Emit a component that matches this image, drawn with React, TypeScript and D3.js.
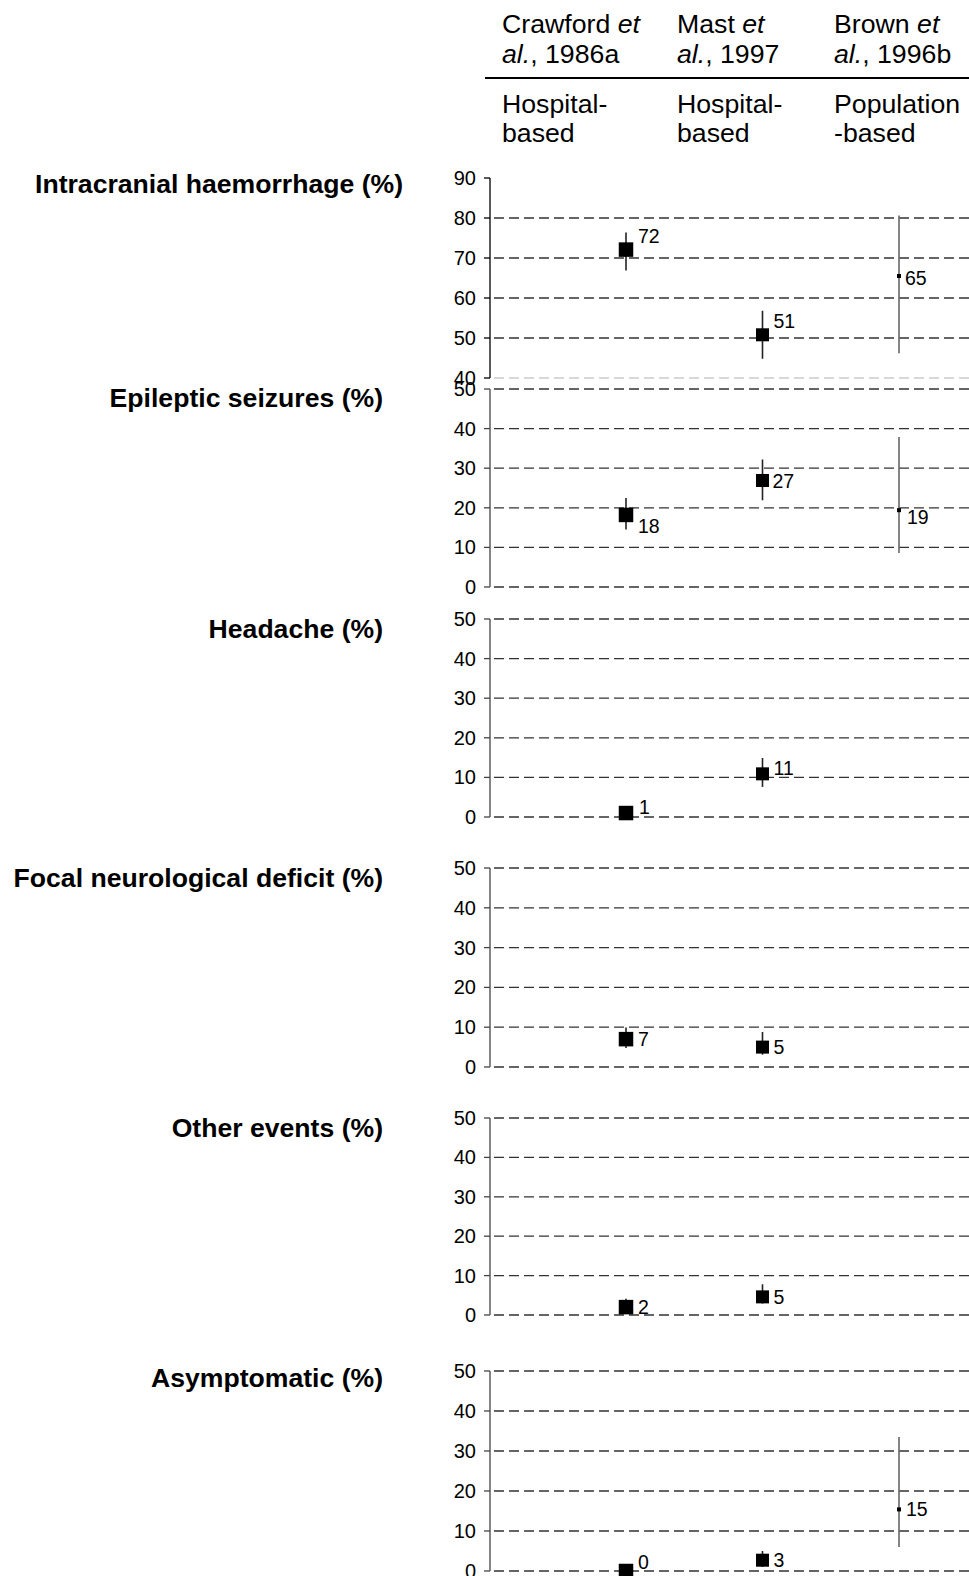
import * as d3 from 'd3'

// studies across the top
const studyAuthors = ['Crawford', 'Mast', 'Brown']
const studyYears = ['1986a', '1997', '1996b']
const designLine1 = ['Hospital-', 'Hospital-', 'Population']
const designLine2 = ['based', 'based', '-based']

// one row per outcome
const outcomes = [
  'Intracranial haemorrhage (%)',
  'Epileptic seizures (%)',
  'Headache (%)',
  'Focal neurological deficit (%)',
  'Other events (%)',
  'Asymptomatic (%)',
]
const axisMin = [40, 0, 0, 0, 0, 0]
const axisMax = [90, 50, 50, 50, 50, 50]

// point estimates (%), per outcome: [Crawford, Mast, Brown]
const estimates: (number | null)[][] = [
  [72.1, 50.8, 65.5],
  [18.2, 26.9, 19.4],
  [1.0, 10.9, null],
  [7.0, 5.0, null],
  [2.0, 4.6, null],
  [0, 2.7, 15.4],
]
// 95% CI lower / upper
const lower: (number | null)[][] = [
  [66.9, 44.8, 46.2],
  [14.5, 21.9, 8.6],
  [null, 7.6, null],
  [4.8, 3.1, null],
  [0.5, 2.9, null],
  [null, 1.0, 6.0],
]
const upper: (number | null)[][] = [
  [76.4, 56.8, 80.6],
  [22.5, 32.2, 37.9],
  [null, 14.9, null],
  [9.9, 8.8, null],
  [4.1, 7.8, null],
  [null, 5.0, 33.5],
]
// printed labels
const printed: (string | null)[][] = [
  ['72', '51', '65'],
  ['18', '27', '19'],
  ['1', '11', null],
  ['7', '5', null],
  ['2', '5', null],
  ['0', '3', '15'],
]

// ---- layout ----
const W = 969
const H = 1576
const axisX = 490
const panelTop = [178, 389, 619, 868, 1118, 1371]
const panelBottom = [378, 587, 817, 1067, 1315, 1571]
const rowLabelDy = [6, 9, 10, 10, 10, 7]
const headerX = [502, 677, 834]
// label offsets (dx, dy) from the marker
const labelOffset: [number, number][][] = [
  [[12, -13], [11, -14], [6, 2]],
  [[12, 11], [10, 1], [8, 7]],
  [[13, -6], [11, -6], [0, 0]],
  [[12, 0], [11, 0], [0, 0]],
  [[12, 0], [11, 0], [0, 0]],
  [[12, -9], [11, 0], [7, 0]],
]

const FONT = 'Arial, "Liberation Sans", Helvetica, sans-serif'

const x = d3.scalePoint<number>().domain([0, 1, 2]).range([626, 899])

function Panel({ i }: { i: number }) {
  const y = d3
    .scaleLinear()
    .domain([axisMin[i], axisMax[i]])
    .range([panelBottom[i], panelTop[i]])
  const ticks = d3.range(axisMin[i], axisMax[i] + 1, 10)
  const axisColor = i === 0 ? '#000' : '#444'

  return (
    <g>
      <text
        x={i === 0 ? 403 : 383}
        y={panelTop[i] + rowLabelDy[i]}
        dy="0.35em"
        textAnchor="end"
        fontWeight="bold"
        fontSize={26.6}
      >
        {outcomes[i]}
      </text>

      {ticks.map((t) => {
        const isTop = t === axisMax[i]
        const gridColor = i === 0 && t === axisMin[i] ? '#ccc' : '#333'
        return (
          <g key={t}>
            {!(i === 0 && isTop) && (
              <line
                x1={axisX + 4}
                x2={W}
                y1={y(t)}
                y2={y(t)}
                stroke={gridColor}
                strokeWidth={1.3}
                strokeDasharray="10 5"
              />
            )}
            <line x1={axisX - 6} x2={axisX} y1={y(t)} y2={y(t)} stroke={axisColor} strokeWidth={1.3} />
            <text x={476} y={y(t)} dy="0.35em" textAnchor="end" fontSize={20}>
              {t}
            </text>
          </g>
        )
      })}
      <line x1={axisX} x2={axisX} y1={panelTop[i]} y2={panelBottom[i]} stroke={axisColor} strokeWidth={1.3} />

      {estimates[i].map((v, j) => {
        if (v == null) return null
        const cx = x(j)!
        const cy = y(v)
        const lo = lower[i][j]
        const hi = upper[i][j]
        const isPop = j === 2
        const size = j === 0 ? 14.5 : j === 1 ? 13 : 4
        const [dx, dy] = labelOffset[i][j]
        return (
          <g key={j}>
            {lo != null && hi != null && (
              <line
                x1={cx}
                x2={cx}
                y1={y(lo)}
                y2={y(hi)}
                stroke={isPop ? '#666' : '#222'}
                strokeWidth={1.6}
              />
            )}
            <rect x={cx - size / 2} y={cy - size / 2} width={size} height={size} fill="#000" />
            {printed[i][j] && (
              <text x={cx + dx} y={cy + dy} dy="0.35em" fontSize={19.5}>
                {printed[i][j]}
              </text>
            )}
          </g>
        )
      })}
    </g>
  )
}

export default function App() {
  return (
    <svg
      width={W}
      height={H}
      style={{ position: 'absolute', left: 0, top: 0, background: '#fff' }}
      fontFamily={FONT}
      fill="#000"
    >
      {studyAuthors.map((a, j) => (
        <g key={a} fontSize={26.7}>
          <text x={headerX[j]} y={33}>
            {a} <tspan fontStyle="italic">et</tspan>
          </text>
          <text x={headerX[j]} y={63}>
            <tspan fontStyle="italic">al.</tspan>, {studyYears[j]}
          </text>
          <text x={headerX[j]} y={113}>
            {designLine1[j]}
          </text>
          <text x={headerX[j]} y={142}>
            {designLine2[j]}
          </text>
        </g>
      ))}
      <line x1={485} x2={W} y1={78} y2={78} stroke="#000" strokeWidth={2} />

      {outcomes.map((_, i) => (
        <Panel key={i} i={i} />
      ))}
    </svg>
  )
}
